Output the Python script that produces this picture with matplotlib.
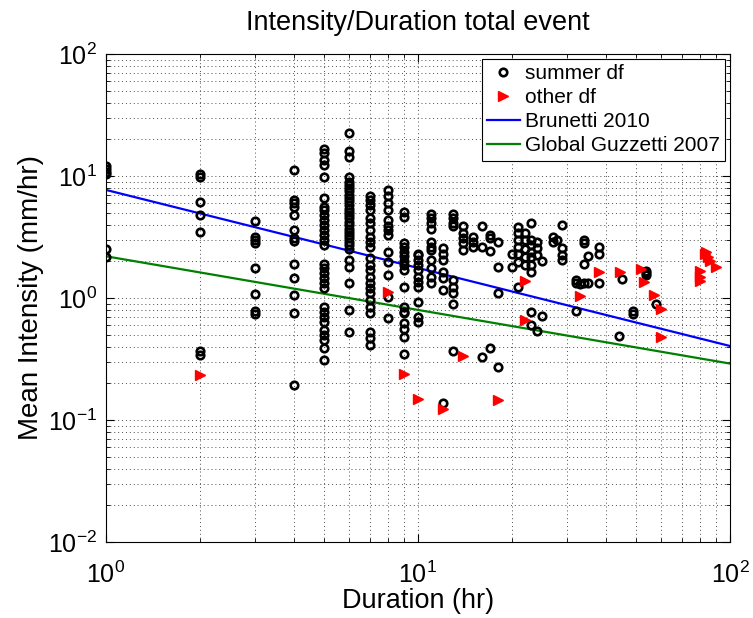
"""
Intensity/Duration plot of debris-flow triggering events with threshold curves.
"""

import numpy as np
import matplotlib
matplotlib.use("Agg")
import matplotlib.pyplot as plt

plt.rcParams["font.family"] = ["Liberation Sans", "DejaVu Sans"]
plt.rcParams["mathtext.fontset"] = "custom"
plt.rcParams["mathtext.rm"] = "Liberation Sans"
plt.rcParams["mathtext.it"] = "Liberation Sans"

# --- summer debris flows: duration (hr) and mean intensity (mm/hr), one line per duration ---
summer_dur = [
    1, 1, 1, 1, 1, 1,
    2, 2, 2, 2, 2, 2, 2,
    3, 3, 3, 3, 3, 3, 3, 3,
    4, 4, 4, 4, 4, 4, 4, 4, 4, 4, 4, 4, 4,
    5, 5, 5, 5, 5, 5, 5, 5, 5, 5, 5, 5, 5, 5, 5, 5, 5, 5, 5, 5, 5, 5, 5, 5, 5, 5, 5, 5, 5, 5,
    6, 6, 6, 6, 6, 6, 6, 6, 6, 6, 6, 6, 6, 6, 6, 6, 6, 6, 6, 6, 6, 6, 6, 6, 6, 6, 6, 6, 6, 6,
    7, 7, 7, 7, 7, 7, 7, 7, 7, 7, 7, 7, 7, 7, 7, 7, 7, 7, 7, 7, 7, 7, 7,
    8, 8, 8, 8, 8, 8, 8, 8, 8, 8, 8, 8, 8,
    9, 9, 9, 9, 9, 9, 9, 9, 9, 9, 9, 9, 9, 9, 9, 9, 9,
    10, 10, 10, 10, 10, 10, 10, 10, 10, 10, 10,
    11, 11, 11, 11, 11, 11, 11, 11, 11, 11, 11,
    12, 12, 12, 12, 12, 12, 12,
    13, 13, 13, 13, 13, 13, 13, 13, 13,
    14, 14, 14, 14, 14,
    15, 15, 15,
    16, 16, 16,
    17, 17, 17, 17,
    18, 18, 18, 18,
    20, 20,
    21, 21, 21, 21, 21, 21, 21,
    22, 22, 22, 22, 22,
    23, 23, 23, 23, 23, 23, 23, 23, 23,
    24, 24, 24, 24,
    25, 25,
    27, 27,
    28,
    29, 29, 29, 29,
    32, 32, 32,
    33,
    34, 34, 34, 34,
    35, 35,
    38, 38, 38,
    44,
    45,
    49, 49,
    54, 54, 54,
    58,
]
summer_int = [
    12.0, 11.4, 10.8, 10.3, 2.5, 2.15,
    10.3, 9.8, 6.1, 4.8, 3.45, 0.37, 0.34,
    4.3, 3.15, 3.0, 2.85, 1.75, 1.08, 0.78, 0.74,
    11.3, 6.4, 6.0, 5.6, 4.8, 3.6, 3.1, 2.95, 1.9, 1.45, 1.06, 0.76, 0.195,
    16.7, 15.3, 13.5, 12.3, 9.9, 6.6, 5.6, 5.3, 4.8, 4.4, 4.0, 3.6, 3.3, 3.0, 2.7,
    1.9, 1.75, 1.6, 1.45, 1.32, 1.2, 0.85, 0.77, 0.70, 0.64, 0.55, 0.5, 0.45, 0.39, 0.31,
    22.4, 16.0, 14.2, 9.9, 9.0, 8.4, 7.9, 7.5, 7.0, 6.6, 6.2, 5.8, 5.4, 5.1, 4.8,
    4.5, 4.2, 4.0, 3.7, 3.5, 3.3, 3.1, 2.9, 2.72, 2.5, 2.05, 1.8, 1.33, 0.79, 0.53,
    6.8, 6.35, 5.8, 5.3, 4.5, 4.1, 3.6, 3.18, 2.9, 2.63, 2.11, 1.86, 1.7, 1.5, 1.32,
    1.2, 1.09, 0.96, 0.85, 0.75, 0.53, 0.47, 0.41,
    7.7, 6.8, 6.0, 5.3, 4.36, 3.9, 3.6, 3.28, 2.4, 1.98, 1.54, 1.02, 0.68,
    5.1, 4.6, 2.8, 2.6, 2.4, 2.2, 2.0, 1.86, 1.7, 1.24, 0.85, 0.77, 0.75, 0.62, 0.56, 0.48, 0.35,
    2.3, 2.25, 2.05, 1.86, 1.7, 1.5, 1.36, 1.24, 0.93, 0.70, 0.64,
    4.9, 4.5, 4.1, 3.7, 2.9, 2.63, 2.47, 2.05, 1.75, 1.5, 1.32,
    2.55, 2.3, 2.05, 1.64, 1.45, 1.16, 0.139,
    4.9, 4.5, 4.1, 3.9, 1.4, 1.24, 1.09, 0.9, 0.37,
    3.9, 3.4, 3.1, 2.8, 2.47,
    3.18, 2.9, 2.63,
    3.9, 2.6, 0.33,
    3.28, 3.1, 2.44, 0.39,
    2.86, 1.78, 1.09, 0.27,
    2.29, 1.78,
    3.85, 3.4, 2.99, 2.63, 2.3, 1.98, 1.24,
    3.4, 3.0, 2.5, 2.18, 1.86,
    4.1, 3.0, 2.7, 2.4, 2.18, 1.86, 1.64, 0.77, 0.6,
    2.9, 2.55, 2.25, 0.54,
    2.0, 0.71,
    3.18, 2.9,
    3.0,
    4.0, 2.55, 2.25, 2.05,
    1.4, 1.33, 0.78,
    1.3,
    3.0, 2.8, 1.89, 1.32,
    2.2, 1.32,
    2.63, 2.3, 1.33,
    0.49,
    1.42,
    0.78, 0.74,
    1.68, 1.6, 1.54,
    0.89,
]

# --- other debris flows ---
other_dur = [2, 8, 9, 10, 12, 14, 18, 22, 22, 33, 38, 44.5, 52, 53, 57, 60, 60,
             80, 80, 80, 83, 84, 85, 86, 90]
other_int = [0.235, 1.13, 0.24, 0.15, 0.123, 0.337, 0.146, 1.38, 0.66, 1.03, 1.62, 1.63,
             1.74, 1.34, 1.06, 0.81, 0.48, 1.65, 1.5, 1.37, 2.3, 2.4, 2.15, 2.0, 1.78]

# --- thresholds I = a * D^b ---
brunetti_a, brunetti_b = 7.7, -0.64
guzzetti_a, guzzetti_b = 2.20, -0.44

fig = plt.figure(figsize=(7.53, 6.18), dpi=100)
ax = fig.add_axes([0.1404, 0.123, 0.8291, 0.7896])

d = np.logspace(0, 2, 200)
ax.plot(summer_dur, summer_int, "o", mfc="none", mec="black", mew=1.9, ms=5.4,
        label="summer df", zorder=3)
ax.plot(other_dur, other_int, ">", color="red", mec="red", ms=7, label="other df", zorder=3)
ax.plot(d, brunetti_a * d ** brunetti_b, color="blue", lw=1.6, label="Brunetti 2010")
ax.plot(d, guzzetti_a * d ** guzzetti_b, color=(0, 0.5, 0), lw=1.6,
        label="Global Guzzetti 2007")

ax.set_xscale("log")
ax.set_yscale("log")
ax.set_xlim(1, 100)
ax.set_ylim(1e-2, 1e2)

ax.grid(True, which="both", linestyle=(0, (1, 3)), color="0.3", linewidth=0.7)
ax.tick_params(which="both", direction="in", top=True, right=True, labelsize=18)
ax.tick_params(axis="x", which="major", pad=14)
ax.tick_params(axis="y", which="major", pad=6)
ax.tick_params(which="major", length=6)
ax.tick_params(which="minor", length=3)
for s in ax.spines.values():
    s.set_linewidth(0.8)

ax.set_xlabel("Duration (hr)", fontsize=19.5, labelpad=0)
ax.set_ylabel("Mean Intensity (mm/hr)", fontsize=20, labelpad=3)
ax.set_title("Intensity/Duration total event", fontsize=19.5, pad=17)

leg = ax.legend(loc="upper right", fontsize=15, fancybox=False, framealpha=1,
                edgecolor="black", borderaxespad=0.25, handlelength=1.55,
                labelspacing=0.24, borderpad=0.25, handletextpad=0.25)
leg.get_frame().set_linewidth(0.8)

fig.savefig("out.png", dpi=100)
